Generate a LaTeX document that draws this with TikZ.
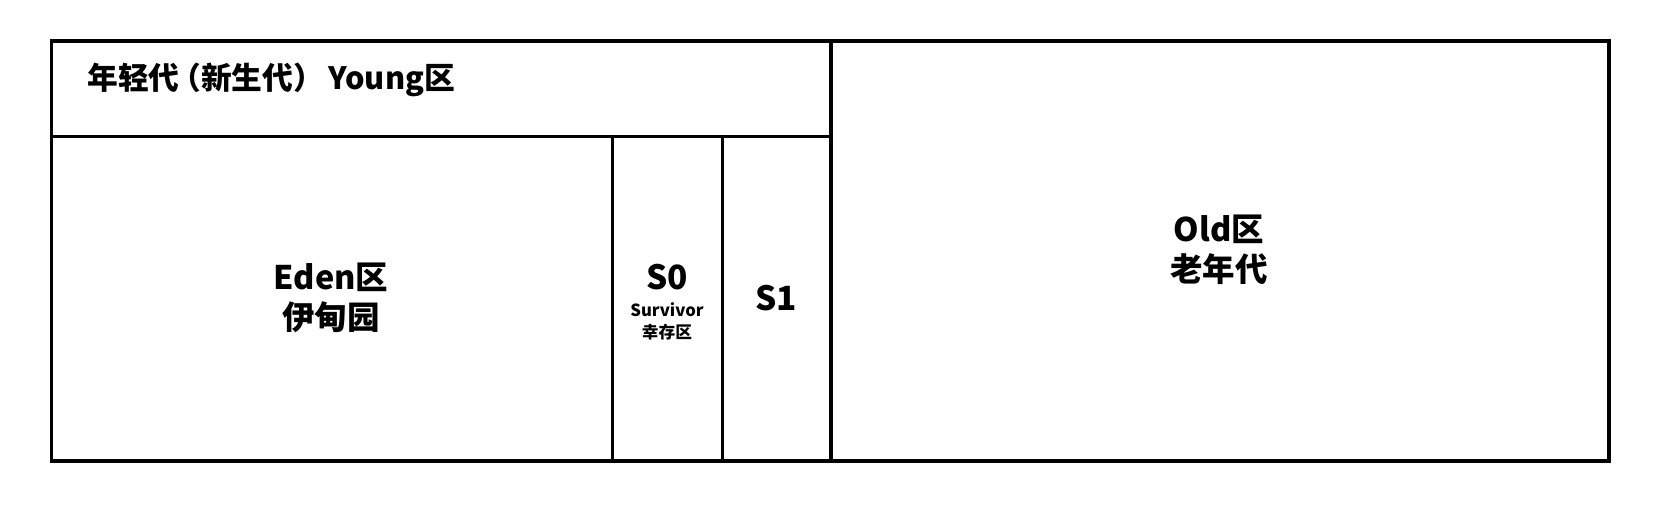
\documentclass[tikz,border=0pt]{standalone}
\usepackage{fontspec}
\setmainfont{Noto Sans CJK SC}
\usetikzlibrary{positioning}

\tikzset{
  frame/.style={draw=black, line width=1.9pt},
  bigtext/.style={font=\fontsize{18.5}{22.5}\selectfont\bfseries, align=center, inner sep=0pt},
  smalltext/.style={font=\fontsize{9.5}{12.3}\selectfont\bfseries, align=center, inner sep=0pt}
}

\begin{document}
\begin{tikzpicture}[x=0.02cm, y=-0.02cm]
  \useasboundingbox (0,0) rectangle (1677,516);

  % Heap frame
  \draw[frame] (51.5,41) rectangle (1609,461);
  \draw[frame] (51.5,136.7) -- (831,136.7);
  \draw[frame] (612.3,136.7) -- (612.3,461);
  \draw[frame] (722.3,136.7) -- (722.3,461);
  \draw[frame] (831,41) -- (831,461);

  % Young generation header
  \node[bigtext, font=\fontsize{17.5}{21}\selectfont\bfseries, anchor=west] (young) at (87,80)
    {年轻代\kern-0.3em（新生代）\kern0.15em Young区};

  % Eden
  \node[bigtext] (eden) at (331,298) {Eden区\\伊甸园};

  % Survivor spaces
  \node[font=\fontsize{19}{22}\selectfont\bfseries, inner sep=0pt] (szero) at (667,277) {S0};
  \node[smalltext, below=7pt of szero] (survivor) {Survivor\\幸存区};
  \node[font=\fontsize{19}{22}\selectfont\bfseries, inner sep=0pt] (sone) at (776,298) {S1};

  % Old generation
  \node[bigtext] (old) at (1219,250) {Old区\\老年代};
\end{tikzpicture}
\end{document}
